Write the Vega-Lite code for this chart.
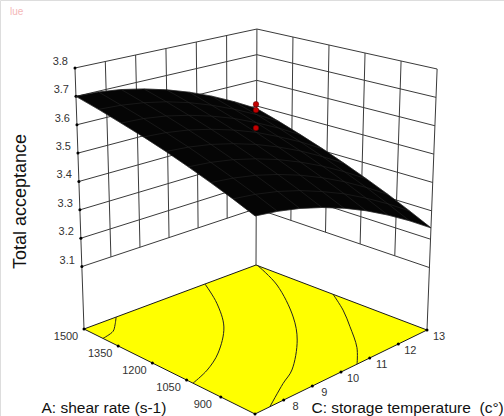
{"$schema":"https://vega.github.io/schema/vega-lite/v6.json","width":504,"height":416,"padding":0,"autosize":"none","background":"white","title":{"text":"lue","anchor":"start","dx":10,"dy":17,"offset":0,"fontSize":10,"fontWeight":"normal","font":"Liberation Sans","color":"#f4b8b8"},"data":{"values":[
{"part":"grid","A":1500,"C":13,"z":3.49,"rim":0},{"part":"grid","A":1406.25,"C":13,"z":3.464,"rim":1},{"part":"grid","A":1312.5,"C":13,"z":3.436,"rim":2},{"part":"grid","A":1218.75,"C":13,"z":3.407,"rim":3},{"part":"grid","A":1125,"C":13,"z":3.376,"rim":4},{"part":"grid","A":1031.25,"C":13,"z":3.344,"rim":5},{"part":"grid","A":937.5,"C":13,"z":3.311,"rim":6},{"part":"grid","A":843.75,"C":13,"z":3.276,"rim":7},{"part":"grid","A":750,"C":13,"z":3.24,"rim":8},
{"part":"grid","A":1500,"C":12.25,"z":3.539,"rim":31},{"part":"grid","A":1406.25,"C":12.25,"z":3.514},{"part":"grid","A":1312.5,"C":12.25,"z":3.487},{"part":"grid","A":1218.75,"C":12.25,"z":3.459},{"part":"grid","A":1125,"C":12.25,"z":3.429},{"part":"grid","A":1031.25,"C":12.25,"z":3.398},{"part":"grid","A":937.5,"C":12.25,"z":3.366},{"part":"grid","A":843.75,"C":12.25,"z":3.332},{"part":"grid","A":750,"C":12.25,"z":3.297,"rim":9},
{"part":"grid","A":1500,"C":11.5,"z":3.582,"rim":30},{"part":"grid","A":1406.25,"C":11.5,"z":3.557},{"part":"grid","A":1312.5,"C":11.5,"z":3.531},{"part":"grid","A":1218.75,"C":11.5,"z":3.504},{"part":"grid","A":1125,"C":11.5,"z":3.476},{"part":"grid","A":1031.25,"C":11.5,"z":3.446},{"part":"grid","A":937.5,"C":11.5,"z":3.415},{"part":"grid","A":843.75,"C":11.5,"z":3.382},{"part":"grid","A":750,"C":11.5,"z":3.348,"rim":10},
{"part":"grid","A":1500,"C":10.75,"z":3.618,"rim":29},{"part":"grid","A":1406.25,"C":10.75,"z":3.594},{"part":"grid","A":1312.5,"C":10.75,"z":3.57},{"part":"grid","A":1218.75,"C":10.75,"z":3.544},{"part":"grid","A":1125,"C":10.75,"z":3.516},{"part":"grid","A":1031.25,"C":10.75,"z":3.487},{"part":"grid","A":937.5,"C":10.75,"z":3.457},{"part":"grid","A":843.75,"C":10.75,"z":3.426},{"part":"grid","A":750,"C":10.75,"z":3.393,"rim":11},
{"part":"grid","A":1500,"C":10,"z":3.647,"rim":28},{"part":"grid","A":1406.25,"C":10,"z":3.625},{"part":"grid","A":1312.5,"C":10,"z":3.601},{"part":"grid","A":1218.75,"C":10,"z":3.576},{"part":"grid","A":1125,"C":10,"z":3.55},{"part":"grid","A":1031.25,"C":10,"z":3.522},{"part":"grid","A":937.5,"C":10,"z":3.493},{"part":"grid","A":843.75,"C":10,"z":3.462},{"part":"grid","A":750,"C":10,"z":3.431,"rim":12},
{"part":"grid","A":1500,"C":9.25,"z":3.67,"rim":27},{"part":"grid","A":1406.25,"C":9.25,"z":3.649},{"part":"grid","A":1312.5,"C":9.25,"z":3.626},{"part":"grid","A":1218.75,"C":9.25,"z":3.602},{"part":"grid","A":1125,"C":9.25,"z":3.577},{"part":"grid","A":1031.25,"C":9.25,"z":3.55},{"part":"grid","A":937.5,"C":9.25,"z":3.522},{"part":"grid","A":843.75,"C":9.25,"z":3.493},{"part":"grid","A":750,"C":9.25,"z":3.462,"rim":13},
{"part":"grid","A":1500,"C":8.5,"z":3.687,"rim":26},{"part":"grid","A":1406.25,"C":8.5,"z":3.666},{"part":"grid","A":1312.5,"C":8.5,"z":3.645},{"part":"grid","A":1218.75,"C":8.5,"z":3.622},{"part":"grid","A":1125,"C":8.5,"z":3.598},{"part":"grid","A":1031.25,"C":8.5,"z":3.572},{"part":"grid","A":937.5,"C":8.5,"z":3.545},{"part":"grid","A":843.75,"C":8.5,"z":3.517},{"part":"grid","A":750,"C":8.5,"z":3.487,"rim":14},
{"part":"grid","A":1500,"C":7.75,"z":3.697,"rim":25},{"part":"grid","A":1406.25,"C":7.75,"z":3.677},{"part":"grid","A":1312.5,"C":7.75,"z":3.657},{"part":"grid","A":1218.75,"C":7.75,"z":3.635},{"part":"grid","A":1125,"C":7.75,"z":3.612},{"part":"grid","A":1031.25,"C":7.75,"z":3.587},{"part":"grid","A":937.5,"C":7.75,"z":3.561},{"part":"grid","A":843.75,"C":7.75,"z":3.534},{"part":"grid","A":750,"C":7.75,"z":3.505,"rim":15},
{"part":"grid","A":1500,"C":7,"z":3.7,"rim":24},{"part":"grid","A":1406.25,"C":7,"z":3.682,"rim":23},{"part":"grid","A":1312.5,"C":7,"z":3.662,"rim":22},{"part":"grid","A":1218.75,"C":7,"z":3.642,"rim":21},{"part":"grid","A":1125,"C":7,"z":3.62,"rim":20},{"part":"grid","A":1031.25,"C":7,"z":3.596,"rim":19},{"part":"grid","A":937.5,"C":7,"z":3.571,"rim":18},{"part":"grid","A":843.75,"C":7,"z":3.545,"rim":17},{"part":"grid","A":750,"C":7,"z":3.517,"rim":16},
{"part":"floor","A":1500,"C":13,"z":2.88,"seq":0},{"part":"floor","A":750,"C":13,"z":2.88,"seq":1},{"part":"floor","A":750,"C":7,"z":2.88,"seq":2},{"part":"floor","A":1500,"C":7,"z":2.88,"seq":3},
{"part":"contour","line":1,"seq":0,"A":1417,"C":7,"z":2.88},{"part":"contour","line":1,"seq":1,"A":1433,"C":7.48,"z":2.88},{"part":"contour","line":1,"seq":2,"A":1462,"C":7.78,"z":2.88},{"part":"contour","line":1,"seq":3,"A":1500,"C":8.12,"z":2.88},
{"part":"contour","line":2,"seq":0,"A":1500,"C":11.22,"z":2.88},{"part":"contour","line":2,"seq":1,"A":1370,"C":10.6,"z":2.88},{"part":"contour","line":2,"seq":2,"A":1231,"C":9.74,"z":2.88},{"part":"contour","line":2,"seq":3,"A":1113,"C":8.6,"z":2.88},{"part":"contour","line":2,"seq":4,"A":1054,"C":7.75,"z":2.88},{"part":"contour","line":2,"seq":5,"A":1022,"C":7,"z":2.88},
{"part":"contour","line":3,"seq":0,"A":1492,"C":13,"z":2.88},{"part":"contour","line":3,"seq":1,"A":1340,"C":12.46,"z":2.88},{"part":"contour","line":3,"seq":2,"A":1132,"C":11.37,"z":2.88},{"part":"contour","line":3,"seq":3,"A":1005,"C":10.5,"z":2.88},{"part":"contour","line":3,"seq":4,"A":871,"C":9.25,"z":2.88},{"part":"contour","line":3,"seq":5,"A":827,"C":8.59,"z":2.88},{"part":"contour","line":3,"seq":6,"A":750,"C":7.52,"z":2.88},
{"part":"contour","line":4,"seq":0,"A":1162,"C":13,"z":2.88},{"part":"contour","line":4,"seq":1,"A":1054,"C":12.49,"z":2.88},{"part":"contour","line":4,"seq":2,"A":952,"C":11.92,"z":2.88},{"part":"contour","line":4,"seq":3,"A":831,"C":11.2,"z":2.88},{"part":"contour","line":4,"seq":4,"A":750,"C":10.56,"z":2.88},
{"part":"wall","line":1,"A":1500,"C":8,"z":3.1},{"part":"wall","line":1,"A":1500,"C":8,"z":3.8},{"part":"wall","line":2,"A":1500,"C":9,"z":3.1},{"part":"wall","line":2,"A":1500,"C":9,"z":3.8},{"part":"wall","line":3,"A":1500,"C":10,"z":3.1},{"part":"wall","line":3,"A":1500,"C":10,"z":3.8},{"part":"wall","line":4,"A":1500,"C":11,"z":3.1},{"part":"wall","line":4,"A":1500,"C":11,"z":3.8},{"part":"wall","line":5,"A":1500,"C":12,"z":3.1},{"part":"wall","line":5,"A":1500,"C":12,"z":3.8},
{"part":"wall","line":6,"A":1350,"C":13,"z":3.1},{"part":"wall","line":6,"A":1350,"C":13,"z":3.8},{"part":"wall","line":7,"A":1200,"C":13,"z":3.1},{"part":"wall","line":7,"A":1200,"C":13,"z":3.8},{"part":"wall","line":8,"A":1050,"C":13,"z":3.1},{"part":"wall","line":8,"A":1050,"C":13,"z":3.8},{"part":"wall","line":9,"A":900,"C":13,"z":3.1},{"part":"wall","line":9,"A":900,"C":13,"z":3.8},
{"part":"wall","line":10,"A":1500,"C":7,"z":2.88},{"part":"wall","line":10,"A":1500,"C":7,"z":3.8},{"part":"wall","line":11,"A":1500,"C":13,"z":2.88},{"part":"wall","line":11,"A":1500,"C":13,"z":3.8},{"part":"wall","line":12,"A":750,"C":13,"z":2.88},{"part":"wall","line":12,"A":750,"C":13,"z":3.8},
{"part":"wall","line":20,"A":1500,"C":7,"z":3.1},{"part":"wall","line":20,"A":1500,"C":13,"z":3.1},{"part":"wall","line":21,"A":1500,"C":7,"z":3.2},{"part":"wall","line":21,"A":1500,"C":13,"z":3.2},{"part":"wall","line":22,"A":1500,"C":7,"z":3.3},{"part":"wall","line":22,"A":1500,"C":13,"z":3.3},{"part":"wall","line":23,"A":1500,"C":7,"z":3.4},{"part":"wall","line":23,"A":1500,"C":13,"z":3.4},{"part":"wall","line":24,"A":1500,"C":7,"z":3.5},{"part":"wall","line":24,"A":1500,"C":13,"z":3.5},{"part":"wall","line":25,"A":1500,"C":7,"z":3.6},{"part":"wall","line":25,"A":1500,"C":13,"z":3.6},{"part":"wall","line":26,"A":1500,"C":7,"z":3.7},{"part":"wall","line":26,"A":1500,"C":13,"z":3.7},{"part":"wall","line":27,"A":1500,"C":7,"z":3.8},{"part":"wall","line":27,"A":1500,"C":13,"z":3.8},
{"part":"wall","line":30,"A":1500,"C":13,"z":3.1},{"part":"wall","line":30,"A":750,"C":13,"z":3.1},{"part":"wall","line":31,"A":1500,"C":13,"z":3.2},{"part":"wall","line":31,"A":750,"C":13,"z":3.2},{"part":"wall","line":32,"A":1500,"C":13,"z":3.3},{"part":"wall","line":32,"A":750,"C":13,"z":3.3},{"part":"wall","line":33,"A":1500,"C":13,"z":3.4},{"part":"wall","line":33,"A":750,"C":13,"z":3.4},{"part":"wall","line":34,"A":1500,"C":13,"z":3.5},{"part":"wall","line":34,"A":750,"C":13,"z":3.5},{"part":"wall","line":35,"A":1500,"C":13,"z":3.6},{"part":"wall","line":35,"A":750,"C":13,"z":3.6},{"part":"wall","line":36,"A":1500,"C":13,"z":3.7},{"part":"wall","line":36,"A":750,"C":13,"z":3.7},{"part":"wall","line":37,"A":1500,"C":13,"z":3.8},{"part":"wall","line":37,"A":750,"C":13,"z":3.8},
{"part":"tick","axis":"z","label":"3.1","A":1500,"C":7,"z":3.1},{"part":"tick","axis":"z","label":"3.2","A":1500,"C":7,"z":3.2},{"part":"tick","axis":"z","label":"3.3","A":1500,"C":7,"z":3.3},{"part":"tick","axis":"z","label":"3.4","A":1500,"C":7,"z":3.4},{"part":"tick","axis":"z","label":"3.5","A":1500,"C":7,"z":3.5},{"part":"tick","axis":"z","label":"3.6","A":1500,"C":7,"z":3.6},{"part":"tick","axis":"z","label":"3.7","A":1500,"C":7,"z":3.7},{"part":"tick","axis":"z","label":"3.8","A":1500,"C":7,"z":3.8},
{"part":"tick","axis":"A","label":"1500","A":1500,"C":7,"z":2.88},{"part":"tick","axis":"A","label":"1350","A":1350,"C":7,"z":2.88},{"part":"tick","axis":"A","label":"1200","A":1200,"C":7,"z":2.88},{"part":"tick","axis":"A","label":"1050","A":1050,"C":7,"z":2.88},{"part":"tick","axis":"A","label":"900","A":900,"C":7,"z":2.88},{"part":"tick","axis":"A","label":"","A":750,"C":7,"z":2.88},
{"part":"tick","axis":"C","label":"8","A":750,"C":8,"z":2.88},{"part":"tick","axis":"C","label":"9","A":750,"C":9,"z":2.88},{"part":"tick","axis":"C","label":"10","A":750,"C":10,"z":2.88},{"part":"tick","axis":"C","label":"11","A":750,"C":11,"z":2.88},{"part":"tick","axis":"C","label":"12","A":750,"C":12,"z":2.88},{"part":"tick","axis":"C","label":"13","A":750,"C":13,"z":2.88},
{"part":"design","A":1125,"C":10,"z":3.692},{"part":"design","A":1125,"C":10,"z":3.671},{"part":"design","A":1125,"C":10,"z":3.608}
]},
"transform":[
{"calculate":"(1500-datum.A)/750","as":"u"},{"calculate":"(13-datum.C)/6","as":"v"},
{"calculate":"256+171*datum.u-172*datum.v+(datum.z-2.88)*(1+10*datum.u-10.8*datum.v)","as":"sx"},
{"calculate":"265+65*datum.u+64*datum.v+20*datum.u*datum.v-(datum.z-2.88)*(256.5+27.2*(datum.u+datum.v))","as":"sy"}],
"encoding":{"x":{"field":"sx","type":"quantitative","scale":{"domain":[0,504],"nice":false,"zero":false},"axis":null},"y":{"field":"sy","type":"quantitative","scale":{"domain":[416,0],"nice":false,"zero":false},"axis":null}},
"resolve":{"axis":{"x":"independent","y":"independent"}},
"layer":[
{"transform":[{"filter":"datum.part==='wall'"}],"mark":{"type":"line","stroke":"#3a3a3a","strokeWidth":1},"encoding":{"detail":{"field":"line"}}},
{"transform":[{"filter":"datum.part==='floor'"}],"mark":{"type":"line","interpolate":"linear-closed","fill":"#ffff00","stroke":"#1a1a1a","strokeWidth":1},"encoding":{"order":{"field":"seq"},
"x":{"field":"sx","type":"quantitative","axis":{"orient":"bottom","domain":false,"ticks":false,"labels":false,"grid":false,"title":"A: shear rate (s-1)","titleX":41,"titleY":-9,"titleAlign":"left","titleBaseline":"middle","titleFont":"Liberation Sans","titleFontSize":15.5,"titleFontWeight":"normal","titleColor":"#111"}},
"y":{"field":"sy","type":"quantitative","axis":{"orient":"left","domain":false,"ticks":false,"labels":false,"grid":false,"title":"Total acceptance","titleX":20,"titleY":201,"titleAngle":-90,"titleAlign":"center","titleBaseline":"middle","titleFont":"Liberation Sans","titleFontSize":18,"titleFontWeight":"normal","titleColor":"#111"}}}},
{"transform":[{"filter":"datum.part==='contour'"}],"mark":{"type":"line","interpolate":"catmull-rom","stroke":"#222","strokeWidth":1},"encoding":{"detail":{"field":"line"},"order":{"field":"seq"},
"x":{"field":"sx","type":"quantitative","axis":{"orient":"top","domain":false,"ticks":false,"labels":false,"grid":false,"title":"C: storage temperature \u00a0(c°)","titleX":311,"titleY":407,"titleAlign":"left","titleBaseline":"middle","titleFont":"Liberation Sans","titleFontSize":15.5,"titleFontWeight":"normal","titleColor":"#111"}}}},
{"transform":[{"filter":"datum.part==='tick'"}],"mark":{"type":"circle","size":9,"color":"#000","opacity":1}},
{"transform":[{"filter":"isValid(datum.rim)"}],"mark":{"type":"line","interpolate":"linear-closed","fill":"#050505","stroke":"#050505","strokeWidth":0.5},"encoding":{"order":{"field":"rim"}}},
{"transform":[{"filter":"datum.part==='grid'"}],"mark":{"type":"line","stroke":"#2b2b2b","strokeWidth":0.5},"encoding":{"detail":{"field":"A"},"order":{"field":"C"}}},
{"transform":[{"filter":"datum.part==='grid'"}],"mark":{"type":"line","stroke":"#2b2b2b","strokeWidth":0.5},"encoding":{"detail":{"field":"C"},"order":{"field":"A"}}},
{"transform":[{"filter":"datum.part==='design'"}],"mark":{"type":"circle","size":30,"fill":"#c40000","stroke":"#5a0000","strokeWidth":0.5,"opacity":1}},
{"transform":[{"filter":"datum.axis==='z'"}],"mark":{"type":"text","align":"right","baseline":"middle","dx":-7,"dy":-6,"font":"Liberation Sans","fontSize":11,"color":"#333"},"encoding":{"text":{"field":"label"}}},
{"transform":[{"filter":"datum.axis==='A'"}],"mark":{"type":"text","align":"center","baseline":"middle","dx":-18,"dy":8,"font":"Liberation Sans","fontSize":11,"color":"#333"},"encoding":{"text":{"field":"label"}}},
{"transform":[{"filter":"datum.axis==='C'"}],"mark":{"type":"text","align":"center","baseline":"middle","dx":12,"dy":7,"font":"Liberation Sans","fontSize":11,"color":"#333"},"encoding":{"text":{"field":"label"}}}
]}
